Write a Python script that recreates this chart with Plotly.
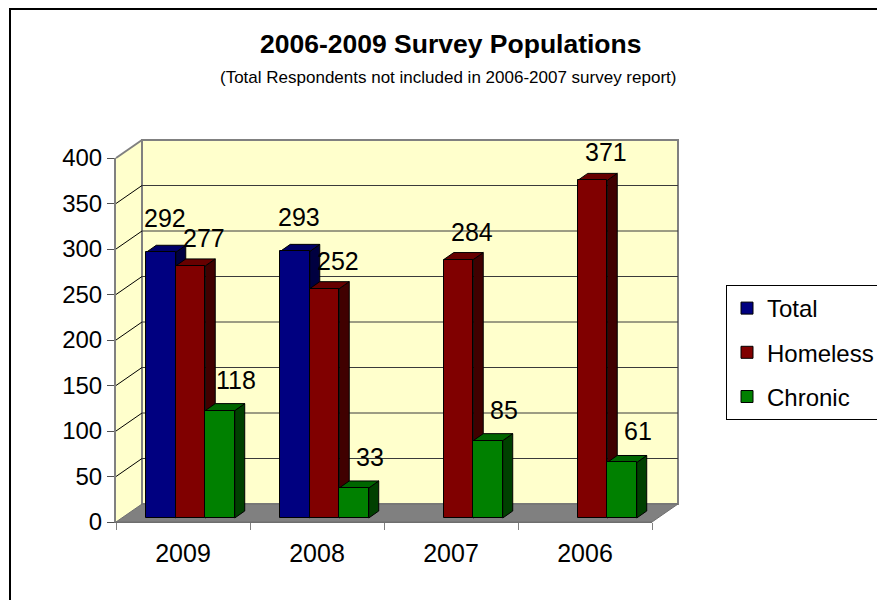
import plotly.graph_objects as go

# ---- data -------------------------------------------------------------
categories = ["2009", "2008", "2007", "2006"]
total = [292, 293, None, None]
homeless = [277, 252, 284, 371]
chronic = [118, 33, 85, 61]
y_ticks = [0, 50, 100, 150, 200, 250, 300, 350, 400]

# ---- geometry (pixels on the 877x600 page) ------------------------------
FIG_W, FIG_H = 877, 600
L, R, T, B = 116, 652, 158, 522          # front plane of the 3-D box
W, H = R - L, B - T
Y_MAX = y_ticks[-1]
X_MIN, X_MAX = -0.5, len(categories) - 0.5
PX_PER_X = W / (X_MAX - X_MIN)
PX_PER_Y = H / Y_MAX
WALL_DX, WALL_DY = 26, 18                # depth of the box (right, up)
BAR_DX, BAR_DY = 10, 7                   # depth of each bar
BAR_LIFT = 4                             # bars stand slightly behind front edge
BAR_W = 0.22

FONT = "Liberation Sans, Arial, sans-serif"
GRAY = "#808080"
WALL = "#FFFFCC"


def px(p):
    return (p - L) / W


def py(p):
    return (B - p) / H


def poly(points):
    return "M" + " L".join(f"{x},{y}" for x, y in points) + " Z"


series = [
    dict(name="Total", values=total, front="#000080", top="#000066",
         side="#000040", offset=-0.274, shift=(4, 34)),
    dict(name="Homeless", values=homeless, front="#800000", top="#660000",
         side="#400000", offset=-0.054, shift=(13, 28)),
    dict(name="Chronic", values=chronic, front="#008000", top="#006600",
         side="#004000", offset=0.166, shift=(16, 31)),
]

fig = go.Figure()
shapes = []
annotations = []

# ---- box: outer frame, walls, floor, gridlines --------------------------
shapes.append(dict(type="rect", xref="paper", yref="paper", layer="below",
                   x0=px(10), y0=py(9), x1=px(FIG_W + 60), y1=py(FIG_H + 60),
                   line=dict(color="black", width=2), fillcolor="white"))

back_x0, back_x1 = L + WALL_DX, R + WALL_DX
back_top, back_bot = T - WALL_DY, B - WALL_DY

# side wall
shapes.append(dict(type="path", xref="paper", yref="paper", layer="below",
                   path=poly([(px(L), py(B)), (px(back_x0), py(back_bot)),
                              (px(back_x0), py(back_top)), (px(L), py(T))]),
                   fillcolor=WALL, line=dict(width=0)))
# back wall
shapes.append(dict(type="rect", xref="paper", yref="paper", layer="below",
                   x0=px(back_x0), x1=px(back_x1), y0=py(back_bot), y1=py(back_top),
                   fillcolor=WALL, line=dict(color=GRAY, width=2)))
# gridlines on back wall and side wall
for v in y_ticks[1:-1]:
    yf = B - v * PX_PER_Y
    shapes.append(dict(type="line", xref="paper", yref="paper", layer="below",
                       x0=px(back_x0), x1=px(back_x1),
                       y0=py(yf - WALL_DY), y1=py(yf - WALL_DY),
                       line=dict(color="#3a3a3a", width=1)))
for v in y_ticks[1:]:
    yf = B - v * PX_PER_Y
    shapes.append(dict(type="line", xref="paper", yref="paper", layer="below",
                       x0=px(L), x1=px(back_x0), y0=py(yf), y1=py(yf - WALL_DY),
                       line=dict(color="black" if v < Y_MAX else GRAY,
                                 width=1 if v < Y_MAX else 2)))
# floor
shapes.append(dict(type="path", xref="paper", yref="paper", layer="below",
                   path=poly([(px(L), py(B)), (px(R), py(B)),
                              (px(back_x1), py(back_bot)), (px(back_x0), py(back_bot))]),
                   fillcolor=GRAY, line=dict(color="#6e6e6e", width=1)))

# ---- bars: front faces as traces, top and side faces as shapes -----------
ddx = BAR_DX / PX_PER_X
ddy = BAR_DY / PX_PER_Y
for i in range(len(categories)):
    for s in series:
        v = s["values"][i]
        if v is None:
            continue
        xl = i + s["offset"]
        xr = xl + BAR_W
        shapes.append(dict(type="path", xref="x", yref="y2", layer="below",
                           path=poly([(xr, 0), (xr, v), (xr + ddx, v + ddy), (xr + ddx, ddy)]),
                           fillcolor=s["side"], line=dict(color="black", width=1)))
        shapes.append(dict(type="path", xref="x", yref="y2", layer="below",
                           path=poly([(xl, v), (xr, v), (xr + ddx, v + ddy), (xl + ddx, v + ddy)]),
                           fillcolor=s["top"], line=dict(color="black", width=1)))

# empty trace so the front value axis is laid out with its labels
fig.add_trace(go.Scatter(x=[None], y=[None], yaxis="y", showlegend=False,
                         hoverinfo="skip", mode="markers"))

for s in series:
    xs = list(range(len(categories)))
    fig.add_trace(go.Bar(
        name=s["name"], x=xs, y=s["values"], yaxis="y2",
        offset=s["offset"], width=BAR_W, legendgroup=s["name"],
        marker=dict(color=s["front"], line=dict(color="black", width=1)),
        hoverinfo="skip",
    ))
    for i, v in enumerate(s["values"]):
        if v is None:
            continue
        annotations.append(dict(
            x=i + s["offset"] + BAR_W / 2, y=v, xref="x", yref="y2",
            xanchor="center", yanchor="middle",
            text=str(v), showarrow=False, xshift=s["shift"][0], yshift=s["shift"][1],
            font=dict(size=25, color="black", family=FONT)))

# ---- titles -------------------------------------------------------------
annotations.append(dict(x=px(450), y=py(44), xref="paper", yref="paper",
                        xanchor="center", yanchor="middle",
                        text="<b>2006-2009 Survey Populations</b>", showarrow=False,
                        font=dict(size=26.5, color="black", family=FONT)))
annotations.append(dict(x=px(448), y=py(78), xref="paper", yref="paper",
                        xanchor="center", yanchor="middle",
                        text="(Total Respondents not included in 2006-2007 survey report)",
                        showarrow=False, font=dict(size=17, color="black", family=FONT)))

fig.update_layout(
    width=FIG_W, height=FIG_H,
    margin=dict(l=L, r=FIG_W - R, t=T, b=FIG_H - B, pad=0, autoexpand=False),
    paper_bgcolor="white", plot_bgcolor="rgba(0,0,0,0)",
    barmode="overlay", bargap=0,
    font=dict(family=FONT, color="black"),
    shapes=shapes, annotations=annotations,
    xaxis=dict(range=[X_MIN, X_MAX], tickmode="array",
               tickvals=list(range(len(categories))), ticktext=categories,
               ticks="", showgrid=False, zeroline=False,
               showline=True, linecolor="#6e6e6e", linewidth=1,
               ticklabelstandoff=9, tickfont=dict(size=25),
               minor=dict(tickmode="array",
                          tickvals=[k - 0.5 for k in range(len(categories) + 1)],
                          ticks="outside", ticklen=7, tickcolor=GRAY, tickwidth=1,
                          showgrid=False),
               automargin=False, fixedrange=True),
    yaxis=dict(range=[0, Y_MAX], tickmode="array", tickvals=y_ticks,
               ticks="outside", ticklen=7, tickcolor="#505050", tickwidth=1,
               showline=True, linecolor=GRAY, linewidth=2,
               showgrid=False, zeroline=False, tickfont=dict(size=24),
               automargin=False, fixedrange=True),
    yaxis2=dict(range=[-BAR_LIFT / PX_PER_Y, Y_MAX - BAR_LIFT / PX_PER_Y],
                overlaying="y", visible=False, fixedrange=True),
    legend=dict(x=px(726), y=py(285), xanchor="left", yanchor="top",
                bgcolor="white", bordercolor="black", borderwidth=1,
                font=dict(size=24, family=FONT), tracegroupgap=10,
                traceorder="grouped", itemclick=False, itemdoubleclick=False),
    showlegend=True,
)

fig.write_html("out.html", config={"displayModeBar": False})
